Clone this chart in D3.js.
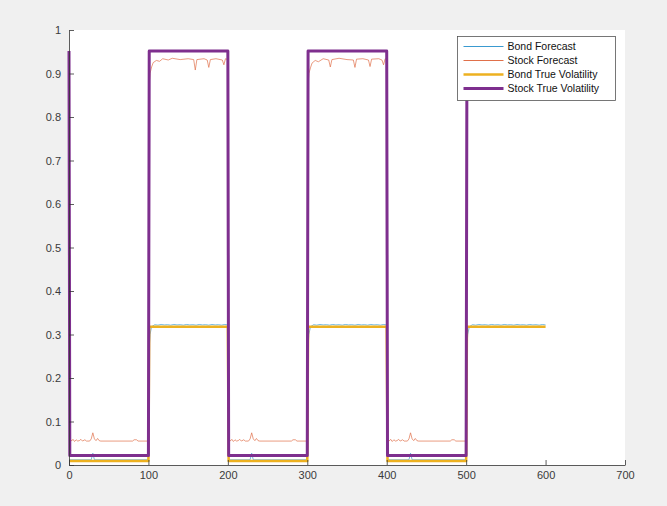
<!DOCTYPE html>
<html><head><meta charset="utf-8">
<script src="https://cdn.jsdelivr.net/npm/d3@7"></script>
<style>
html,body{margin:0;padding:0;background:#f0f0f0;}
svg{display:block;font-family:"Liberation Sans",Arial,Helvetica,sans-serif;}
</style></head>
<body>
<svg id="chart" width="667" height="506"></svg>
<script>
// ---- data ----
const xTicks = [0,100,200,300,400,500,600,700];
const yTicks = [0,0.1,0.2,0.3,0.4,0.5,0.6,0.7,0.8,0.9,1];
const seriesNames = ["Bond Forecast","Stock Forecast","Bond True Volatility","Stock True Volatility"];

const stockTrueX = [0,1,100,101,200,201,300,301,400,401,500,501,600];
const stockTrueY = [0.952,0.022,0.022,0.952,0.952,0.022,0.022,0.952,0.952,0.022,0.022,0.952,0.952];

const bondTrueX = [0,100,101,200,201,300,301,400,401,500,501,600];
const bondTrueY = [0.009,0.009,0.318,0.318,0.009,0.009,0.318,0.318,0.009,0.009,0.318,0.318];

const stockFcX = [0,1,3,5,7,9,11,13,15,17,20,22,26,28,30,32,34,36,38,40,80,82,85,87,100,
  101,102,104,106,110,114,118,125,130,140,150,157,159,161,170,174,176,178,185,193,195,197,200,
  201,203,205,207,209,211,213,215,217,220,222,226,228,230,232,234,236,238,240,280,282,285,287,300,
  301,302,304,306,310,314,320,327,329,331,340,350,358,360,362,370,377,379,381,390,394,396,398,400,
  401,403,405,407,409,411,413,415,417,420,422,426,428,430,432,434,436,438,440,480,482,485,487,500,
  501,502,504,506,510,520,540,560,580,600];
const stockFcY = [0.935,0.062,0.055,0.059,0.054,0.058,0.055,0.056,0.059,0.055,0.058,0.055,0.055,0.06,0.074,0.06,0.056,0.061,0.056,0.055,0.055,0.058,0.058,0.055,0.055,
  0.875,0.9,0.915,0.925,0.93,0.928,0.934,0.931,0.935,0.932,0.934,0.932,0.908,0.932,0.934,0.931,0.914,0.932,0.934,0.931,0.92,0.934,0.932,
  0.062,0.055,0.059,0.054,0.058,0.055,0.056,0.059,0.055,0.058,0.055,0.055,0.06,0.074,0.06,0.056,0.061,0.056,0.055,0.055,0.058,0.058,0.055,0.055,
  0.875,0.9,0.913,0.924,0.93,0.927,0.934,0.931,0.915,0.932,0.935,0.932,0.931,0.914,0.933,0.934,0.931,0.916,0.933,0.934,0.931,0.92,0.934,0.932,
  0.062,0.055,0.059,0.054,0.058,0.055,0.056,0.059,0.055,0.058,0.055,0.055,0.06,0.074,0.06,0.056,0.061,0.056,0.055,0.055,0.058,0.058,0.055,0.055,
  0.875,0.9,0.915,0.925,0.93,0.934,0.932,0.934,0.931,0.933];

const bondFcX = [0,28,30,32,100,101,102,104,108,112,116,120,124,128,132,136,140,144,148,152,156,160,164,168,172,176,180,184,188,192,196,200,
  201,228,230,232,300,301,302,304,308,312,316,320,324,328,332,336,340,344,348,352,356,360,364,368,372,376,380,384,388,392,396,400,
  401,428,430,432,500,501,502,504,508,512,516,520,524,528,532,536,540,544,548,552,556,560,564,568,572,576,580,584,588,592,596,600];
const bondFcY = [0.012,0.012,0.027,0.012,0.012,0.27,0.3,0.318,0.3225,0.3215,0.323,0.322,0.3225,0.3215,0.323,0.322,0.3225,0.3215,0.323,0.322,0.3225,0.3215,0.323,0.322,0.3225,0.3215,0.323,0.322,0.3225,0.3215,0.323,0.322,
  0.012,0.012,0.027,0.012,0.012,0.27,0.3,0.318,0.3225,0.3215,0.323,0.322,0.3225,0.3215,0.323,0.322,0.3225,0.3215,0.323,0.322,0.3225,0.3215,0.323,0.322,0.3225,0.3215,0.323,0.322,0.3225,0.3215,0.323,0.322,
  0.012,0.012,0.027,0.012,0.012,0.27,0.3,0.318,0.3225,0.3215,0.323,0.322,0.3225,0.3215,0.323,0.322,0.3225,0.3215,0.323,0.322,0.3225,0.3215,0.323,0.322,0.3225,0.3215,0.323,0.322,0.3225,0.3215,0.323,0.322];

const colors = ["#3a9ad0","#e0704a","#edb120","#7e2f8e"];
const widths = [0.7,0.7,2.5,3];

// ---- chart ----
const svg = d3.select("#chart");
const L = 69, R = 625, T = 30, B = 465;
const x = d3.scaleLinear().domain([0,700]).range([L,R]);
const y = d3.scaleLinear().domain([0,1]).range([B,T]);

svg.append("rect").attr("width",667).attr("height",506).attr("fill","#f0f0f0");
svg.append("rect").attr("x",L).attr("y",T).attr("width",R-L).attr("height",B-T).attr("fill","#ffffff");

const series = [
  bondFcX.map((v,i)=>[v,bondFcY[i]]),
  stockFcX.map((v,i)=>[v,stockFcY[i]]),
  bondTrueX.map((v,i)=>[v,bondTrueY[i]]),
  stockTrueX.map((v,i)=>[v,stockTrueY[i]])
];
const line = d3.line().x(d=>x(d[0])).y(d=>y(d[1]));
series.forEach((s,i)=>{
  svg.append("path").attr("d",line(s)).attr("fill","none")
    .attr("stroke",colors[i]).attr("stroke-width",widths[i])
    .attr("stroke-linejoin","round");
});

// axes
const axColor = "#333333";
const xAxis = svg.append("g").attr("transform",`translate(0,${B})`)
  .call(d3.axisBottom(x).tickValues(xTicks).tickFormat(d3.format("d")).tickSizeInner(-5).tickSizeOuter(0).tickPadding(6));
const yAxis = svg.append("g").attr("transform",`translate(${L},0)`)
  .call(d3.axisLeft(y).tickValues(yTicks).tickFormat(d=>d===0?"0":d===1?"1":d3.format(".1f")(d)).tickSizeInner(-5).tickSizeOuter(0).tickPadding(8));
[xAxis,yAxis].forEach(g=>{
  g.select(".domain").attr("stroke",axColor).attr("stroke-width",0.8);
  g.selectAll(".tick line").attr("stroke",axColor).attr("stroke-width",0.8);
  g.selectAll(".tick text").attr("fill","#3a3a3a").attr("font-size",11);
});

// legend
const lg = svg.append("g");
const lx = 457.5, ly = 36.5, lw = 158, lh = 64;
lg.append("rect").attr("x",lx).attr("y",ly).attr("width",lw).attr("height",lh)
  .attr("fill","#ffffff").attr("stroke","#555").attr("stroke-width",0.8);
seriesNames.forEach((n,i)=>{
  const yy = Math.round(ly + 9 + i*14) + 0.5;
  lg.append("line").attr("x1",lx+6).attr("x2",lx+46).attr("y1",yy).attr("y2",yy)
    .attr("stroke",colors[i]).attr("stroke-width",i<2?1:widths[i]);
  lg.append("text").attr("x",lx+50).attr("y",yy).attr("dy","0.35em")
    .attr("font-size",10.5).attr("fill","#111").text(n);
});
</script>
</body></html>
